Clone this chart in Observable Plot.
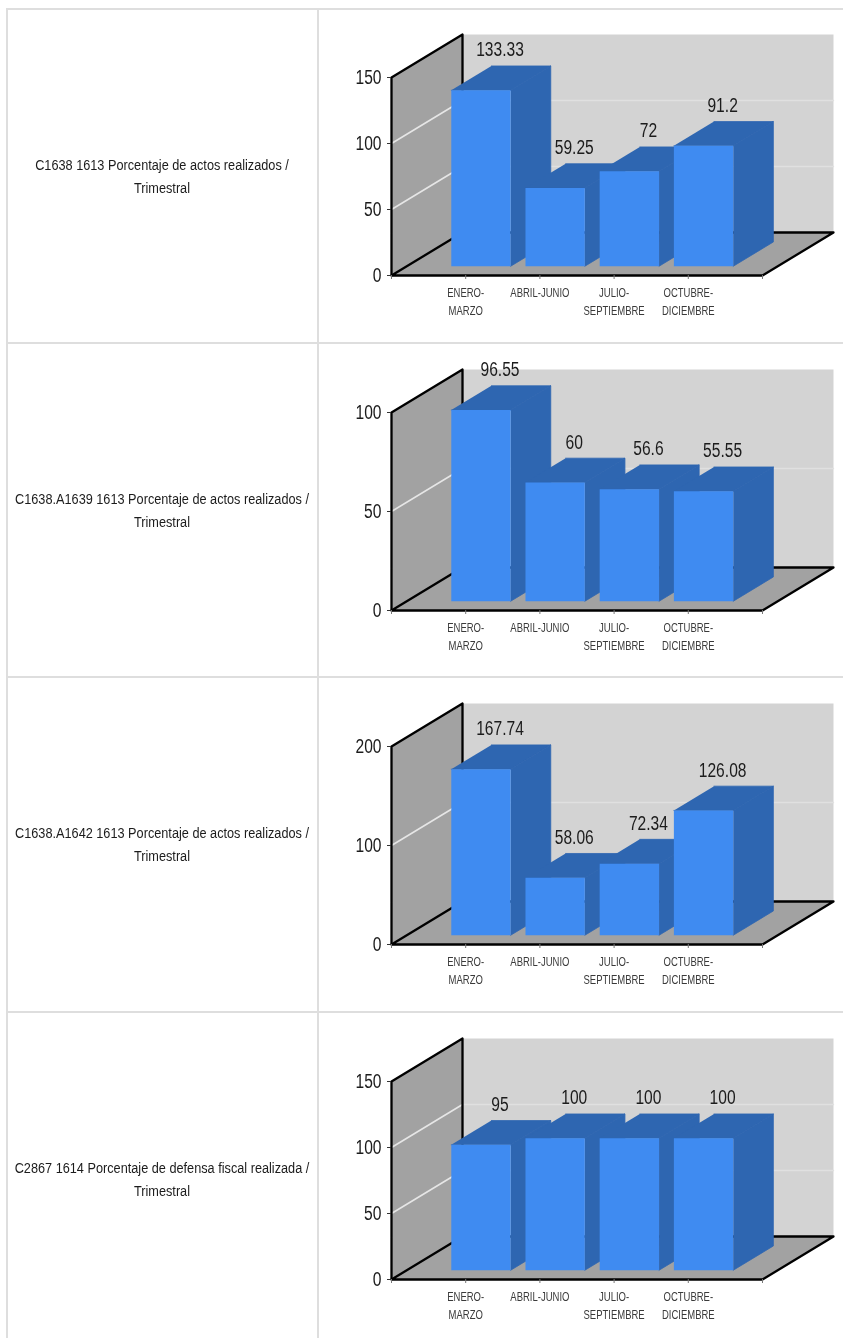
<!DOCTYPE html>
<html>
<head>
<meta charset="utf-8">
<script src="https://cdn.jsdelivr.net/npm/d3@7"></script>
<script src="https://cdn.jsdelivr.net/npm/@observablehq/plot@0.6"></script>
<style>
html,body{margin:0;padding:0;background:#fff;overflow:hidden}
#page{position:relative;width:843px;height:1338px;overflow:hidden;filter:blur(.55px)}
.h{position:absolute;left:6px;right:0;height:2px;background:#dedede}
.v{position:absolute;top:8px;bottom:0;width:2px;background:#dedede}
.lab{position:absolute;left:-38px;width:400px;text-align:center;white-space:pre;font:15.5px/22.5px "Liberation Sans",Arial,sans-serif;color:#1c1c1c;transform:scaleX(.82);transform-origin:50% 50%}
svg{position:absolute;left:317px;background:transparent;overflow:visible}
</style>
</head>
<body>
<div id="page"></div>
<script>
const categories = ["ENERO-\nMARZO", "ABRIL-JUNIO", "JULIO-\nSEPTIEMBRE", "OCTUBRE-\nDICIEMBRE"];

const titles = [
  "C1638 1613 Porcentaje de actos realizados /\nTrimestral",
  "C1638.A1639 1613 Porcentaje de actos realizados /\nTrimestral",
  "C1638.A1642 1613 Porcentaje de actos realizados /\nTrimestral",
  "C2867 1614 Porcentaje de defensa fiscal realizada /\nTrimestral"
];

const seriesA = [133.33, 59.25, 72, 91.2];
const seriesB = [96.55, 60, 56.6, 55.55];
const seriesC = [167.74, 58.06, 72.34, 126.08];
const seriesD = [95, 100, 100, 100];

const labelsA = ["133.33", "59.25", "72", "91.2"];
const labelsB = ["96.55", "60", "56.6", "55.55"];
const labelsC = ["167.74", "58.06", "72.34", "126.08"];
const labelsD = ["95", "100", "100", "100"];

const ticksA = [0, 50, 100, 150];
const ticksB = [0, 50, 100];
const ticksC = [0, 100, 200];
const ticksD = [0, 50, 100, 150];

const panels = [
  {values: seriesA, labels: labelsA, ticks: ticksA, title: titles[0], line: 8,    top: 10},
  {values: seriesB, labels: labelsB, ticks: ticksB, title: titles[1], line: 342,  top: 345},
  {values: seriesC, labels: labelsC, ticks: ticksC, title: titles[2], line: 676,  top: 679},
  {values: seriesD, labels: labelsD, ticks: ticksD, title: titles[3], line: 1011, top: 1014}
];

// Oblique projection of the depth axis, as a share of the x unit and of the y axis
const depthX = 0.957, depthYShare = 43 / 198;
const zFront = 0.215, zBack = 0.78, halfBar = 0.4, slots = 5;
const wallColor = "#a2a2a2", backColor = "#d3d3d3", gridLeft = "#e6e6e6", gridBack = "#e0e0e0";
const frontColor = "#3f8bf1", sideColor = "#2e66b1", edge = "#000";
const font = '"Liberation Sans",Arial,sans-serif';

const page = document.getElementById("page");
const add = (cls, style) => { const d = document.createElement("div"); d.className = cls; Object.assign(d.style, style); page.append(d); return d; };
add("v", {left: "6px"});
add("v", {left: "317px"});

for (const p of panels) {
  add("h", {top: p.line + "px"});
  const t = add("lab", {top: (p.line + 146) + "px"});
  t.textContent = p.title;

  const max = d3.max(p.ticks);
  const dy = max * depthYShare, dx = depthX;
  const inner = p.ticks.filter(v => v > 0 && v < max);
  const poly = (pts, fill, stroke = "none") => Plot.line(pts, {x: "0", y: "1", fill, stroke, strokeWidth: 0.8});
  const seg = (pts, strokeWidth = 2.3, stroke = edge) => Plot.line(pts, {x: "0", y: "1", stroke, strokeWidth});

  const marks = [
    // back wall, floor, left wall
    poly([[dx, dy], [slots + dx, dy], [slots + dx, max + dy], [dx, max + dy]], backColor),
    poly([[0, 0], [dx, dy], [slots + dx, dy], [slots, 0]], wallColor),
    poly([[0, 0], [dx, dy], [dx, max + dy], [0, max]], wallColor),
    // grid
    ...inner.map(v => seg([[0, v], [dx, v + dy]], 1.6, gridLeft)),
    ...inner.map(v => seg([[dx, v + dy], [slots + dx, v + dy]], 1.4, gridBack)),
    // frame
    seg([[0, 0], [0, max], [dx, max + dy], [dx, dy]]),
    seg([[0, 0], [dx, dy], [slots + dx, dy], [slots, 0], [0, 0]]),
    // bars, left to right
    ...p.values.flatMap((v, i) => {
      const x1 = i + 1 - halfBar + zFront * dx, x2 = i + 1 + halfBar + zFront * dx;
      const sx = (zBack - zFront) * dx, y0 = zFront * dy, sy = (zBack - zFront) * dy;
      return [
        poly([[x1, y0 + v], [x2, y0 + v], [x2 + sx, y0 + v + sy], [x1 + sx, y0 + v + sy]], sideColor, sideColor),
        poly([[x2, y0], [x2 + sx, y0 + sy], [x2 + sx, y0 + v + sy], [x2, y0 + v]], sideColor, sideColor),
        poly([[x1, y0], [x2, y0], [x2, y0 + v], [x1, y0 + v]], frontColor)
      ];
    }),
    // value labels
    Plot.text(p.values, {
      x: (v, i) => i + 1 + (zFront + zBack) / 2 * dx,
      y: v => v + zBack * dy,
      text: (v, i) => p.labels[i],
      dy: -16, fontSize: 20, fontFamily: font, fill: "#1c1c1c", textAnchor: "middle", dx: -1
    }),
    Plot.axisY({ticks: p.ticks, tickFormat: d3.format("d"), tickSize: 4, tickPadding: 6, fontSize: 20, fontFamily: font, color: "#1c1c1c", stroke: "#333", label: null, anchor: "left"}),
    Plot.axisX({ticks: d3.range(0, slots + 1), tickFormat: i => categories[i - 1] ?? "", tickSize: 4, tickPadding: 5, fontSize: 13, fontFamily: font, lineHeight: 1.35, color: "#3a3a3a", stroke: "#777", label: null, anchor: "bottom", textAnchor: "middle"})
  ];

  const svg = Plot.plot({
    width: 526, height: 333,
    marginLeft: 74, marginRight: 10, marginTop: 24, marginBottom: 68,
    x: {domain: [0, slots + dx]},
    y: {domain: [0, max + dy]},
    style: {background: "transparent", overflow: "visible"},
    marks
  });
  svg.style.top = p.top + "px";
  page.append(svg);

  // The reference's type is horizontally condensed; squeeze each text run to match.
  for (const el of svg.querySelectorAll("text, tspan")) {
    if (el.children.length) continue;
    const size = parseFloat(getComputedStyle(el).fontSize);
    const ratio = size < 15 ? 0.73 : 0.78;
    const len = el.getComputedTextLength();
    if (len > 0) {
      el.setAttribute("textLength", (len * ratio).toFixed(1));
      el.setAttribute("lengthAdjust", "spacingAndGlyphs");
    }
  }
}
</script>
</body>
</html>
